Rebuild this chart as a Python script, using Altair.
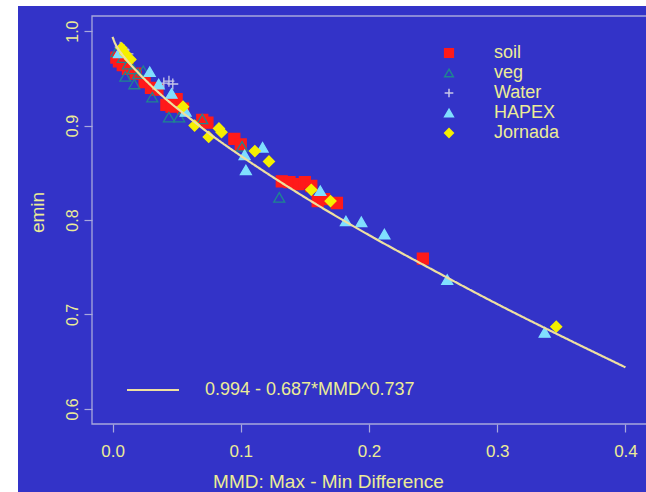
import altair as alt
import pandas as pd

# ---------------- data ----------------
series_names = ["soil", "veg", "Water", "HAPEX", "Jornada"]

soil_x = [0.003, 0.005, 0.008, 0.012, 0.018, 0.025, 0.030, 0.035, 0.042, 0.046, 0.050,
          0.055, 0.070, 0.074, 0.095, 0.100, 0.132, 0.138, 0.145, 0.150, 0.155, 0.160,
          0.165, 0.175, 0.242]
soil_y = [0.972, 0.968, 0.964, 0.960, 0.955, 0.946, 0.940, 0.938, 0.922, 0.920, 0.928,
          0.918, 0.906, 0.903, 0.886, 0.880, 0.841, 0.840, 0.838, 0.840, 0.836, 0.820,
          0.822, 0.818, 0.759]

veg_x = [0.003, 0.008, 0.010, 0.012, 0.016, 0.017, 0.020, 0.024, 0.031, 0.044, 0.052,
         0.070, 0.101, 0.130]
veg_y = [0.978, 0.972, 0.952, 0.965, 0.960, 0.944, 0.955, 0.958, 0.930, 0.909, 0.909,
         0.907, 0.878, 0.824]

water_x = [0.006, 0.009, 0.012, 0.040, 0.044, 0.047]
water_y = [0.983, 0.980, 0.976, 0.945, 0.947, 0.944]

hapex_x = [0.005, 0.029, 0.036, 0.046, 0.057, 0.103, 0.104, 0.117, 0.162, 0.182, 0.194,
           0.212, 0.261, 0.337]
hapex_y = [0.977, 0.957, 0.944, 0.934, 0.915, 0.869, 0.853, 0.877, 0.831, 0.799, 0.798,
           0.785, 0.737, 0.681]

jornada_x = [0.007, 0.010, 0.014, 0.055, 0.064, 0.075, 0.083, 0.085, 0.111, 0.122, 0.155,
             0.170, 0.346]
jornada_y = [0.982, 0.976, 0.970, 0.920, 0.900, 0.888, 0.897, 0.893, 0.873, 0.862, 0.832,
             0.820, 0.687]

# fitted curve as drawn on the picture
fit_label = "0.994 - 0.687*MMD^0.737"
fit_x = [0.0, 0.002, 0.005, 0.01, 0.02, 0.04, 0.06, 0.08, 0.1, 0.15, 0.2, 0.25, 0.3, 0.35, 0.4]
fit_y = [0.994, 0.987, 0.980, 0.971, 0.956, 0.930, 0.908, 0.887, 0.868, 0.824, 0.784,
         0.747, 0.711, 0.677, 0.644]

x_ticks = [0.0, 0.1, 0.2, 0.3, 0.4]
y_ticks = [0.6, 0.7, 0.8, 0.9, 1.0]

# ---------------- tables ----------------
rows = []
for name, xs, ys in zip(series_names,
                        [soil_x, veg_x, water_x, hapex_x, jornada_x],
                        [soil_y, veg_y, water_y, hapex_y, jornada_y]):
    for a, b in zip(xs, ys):
        rows.append({"series": name, "MMD": a, "emin": b})
points_df = pd.DataFrame(rows)
fit_df = pd.DataFrame({"MMD": fit_x, "emin": fit_y, "fit": [fit_label] * len(fit_x)})

# ---------------- styling ----------------
BLUE = "#3333c8"
AX = "#a8a8dc"
TXT = "#ecec96"
LINE = "#eee0a0"
FONT = "Liberation Sans"
W, H = 554, 408

shapes = ["square", "triangle-up", "M-1,0L1,0M0,-1L0,1", "triangle-up", "diamond"]
fills = ["#ff1a1a", "transparent", "transparent", "#80dfff", "#f5ef00"]
strokes = ["#ff1a1a", "#1f8590", "#c8c8e8", "#80dfff", "#f5ef00"]

xscale = alt.Scale(domain=[-0.016, 0.416], nice=False, zero=False)
yscale = alt.Scale(domain=[0.584, 1.016], nice=False, zero=False)

xaxis = alt.Axis(values=x_ticks, format=".1f", title="MMD:  Max - Min Difference",
                 domain=False, grid=False, tickColor=AX, tickSize=8, tickWidth=1.2,
                 labelColor=TXT, labelFont=FONT, labelFontSize=17, labelPadding=11,
                 labelFlush=False, labelOverlap=False,
                 titleColor=TXT, titleFont=FONT, titleFontSize=19, titleFontWeight="normal",
                 titleX=236, titleY=48, titleBaseline="top", titleAlign="center", zindex=1)
yaxis = alt.Axis(values=y_ticks, format=".1f", title="emin",
                 domain=False, grid=False, tickColor=AX, tickSize=8, tickWidth=1.2,
                 labelColor=TXT, labelFont=FONT, labelFontSize=16, labelPadding=4,
                 labelAngle=270, labelAlign="center", labelBaseline="bottom",
                 labelFlush=False, labelOverlap=False,
                 titleColor=TXT, titleFont=FONT, titleFontSize=19, titleFontWeight="normal",
                 titleAngle=270, titleX=-55, titleY=196, titleBaseline="middle",
                 titleAlign="center", zindex=1)

leg_pts = alt.Legend(title=None, orient="none", legendX=348, legendY=28, symbolSize=75,
                     symbolStrokeWidth=1.5, labelFont=FONT, labelFontSize=18, labelColor=TXT,
                     labelOffset=36, rowPadding=2, padding=0, zindex=1)
leg_fit = alt.Legend(title=None, orient="none", legendX=34, legendY=347, symbolType="stroke",
                     symbolSize=2700, symbolStrokeColor=LINE, symbolStrokeWidth=2,
                     labelFont=FONT, labelFontSize=18, labelColor=TXT, labelOffset=25,
                     labelLimit=0, padding=0, zindex=1)

one = pd.DataFrame({"k": [0]})

bg = alt.Chart(one).mark_rect(color=BLUE).encode(
    x=alt.value(-74), x2=alt.value(W + 10), y=alt.value(-10), y2=alt.value(H + 80))

box = alt.Chart(one).mark_rect(fill="transparent", stroke=AX, strokeWidth=1.3).encode(
    x=alt.value(0), x2=alt.value(W + 4), y=alt.value(0), y2=alt.value(H))

pts = alt.Chart(points_df).mark_point(opacity=1, size=120, strokeWidth=1.3).encode(
    x=alt.X("MMD:Q", scale=xscale, axis=xaxis),
    y=alt.Y("emin:Q", scale=yscale, axis=yaxis),
    shape=alt.Shape("series:N", scale=alt.Scale(domain=series_names, range=shapes), legend=leg_pts),
    fill=alt.Fill("series:N", scale=alt.Scale(domain=series_names, range=fills), legend=leg_pts),
    stroke=alt.Stroke("series:N", scale=alt.Scale(domain=series_names, range=strokes), legend=leg_pts),
)

fit = alt.Chart(fit_df).mark_line(color=LINE, strokeWidth=2.2, interpolate="monotone").encode(
    x=alt.X("MMD:Q", scale=xscale),
    y=alt.Y("emin:Q", scale=yscale),
    strokeDash=alt.StrokeDash("fit:N", scale=alt.Scale(range=[[1, 0]]), legend=leg_fit),
)

chart = alt.layer(bg, box, pts, fit).properties(
    width=W, height=H,
    autosize=alt.AutoSizeParams(type="none"),
    padding={"left": 92, "top": 16, "right": 0, "bottom": 68},
    background="white",
).configure_view(stroke=None, fill=None)

chart.save("out.html", embed_options={"renderer": "svg", "actions": False})
